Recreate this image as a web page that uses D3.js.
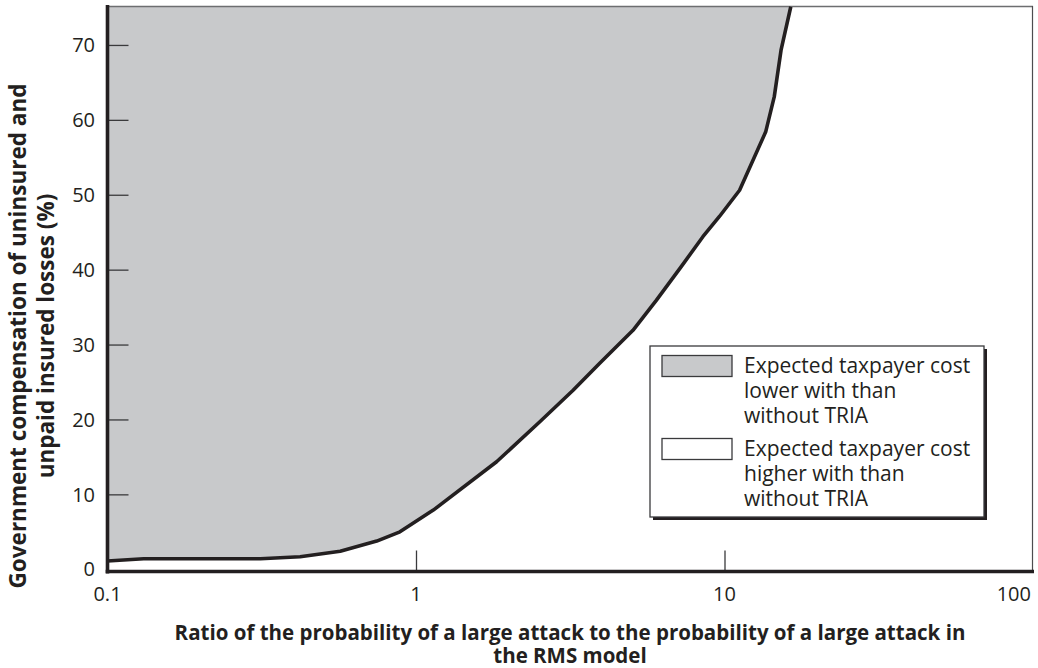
<!DOCTYPE html>
<html>
<head>
<meta charset="utf-8">
<script src="https://cdn.jsdelivr.net/npm/d3@7"></script>
<style>
  html, body { margin: 0; padding: 0; background: #fff; }
  svg { display: block; }
  text { font-family: "Open Sans", "Noto Sans", sans-serif; fill: #231f20; }
</style>
</head>
<body>
<svg id="chart" width="1038" height="668"></svg>
<script>
// ---- data ----
const ratio = [0.1, 0.131, 0.313, 0.421, 0.568, 0.746, 0.887, 1.138, 1.825, 2.52, 3.23, 3.94, 5.05, 6.01, 7.24, 8.51, 9.63, 11.19, 13.6, 14.5, 15.25, 16.4];
const compensation = [1.1, 1.4, 1.4, 1.67, 2.4, 3.76, 5.0, 7.9, 14.35, 19.7, 23.9, 27.5, 31.9, 35.9, 40.4, 44.4, 47.1, 50.6, 58.4, 63.1, 69.3, 75.1];
const xTicks = [0.1, 1, 10, 100];
const xTickLabels = ["0.1", "1", "10", "100"];
const yTicks = [0, 10, 20, 30, 40, 50, 60, 70];
const legendLabels = [
  ["Expected taxpayer cost", "lower with than", "without TRIA"],
  ["Expected taxpayer cost", "higher with than", "without TRIA"]
];
const xTitle = ["Ratio of the probability of a large attack to the probability of a large attack in", "the RMS model"];
const yTitle = ["Government compensation of uninsured and", "unpaid insured losses (%)"];

// ---- layout ----
const svg = d3.select("#chart");
const ink = "#231f20";
const grey = "#c8c9cb";
const plotL = 107.5, plotR = 1033, plotT = 6, axisY = 571.5;

const x = d3.scaleLog().domain([0.1, 100]).range([plotL, plotR]);
const y = d3.scaleLinear().domain([-0.3, 75.2]).range([axisY, plotT]);

const pts = ratio.map((r, i) => [r, compensation[i]]);

// shaded region (above the curve)
svg.append("path")
  .datum(pts)
  .attr("fill", grey)
  .attr("d", d3.area().x(d => x(d[0])).y0(y(75.2)).y1(d => y(d[1])));

// top and right frame
svg.append("line").attr("x1", plotL).attr("x2", plotR).attr("y1", plotT + 0.5).attr("y2", plotT + 0.5)
  .attr("stroke", "#6d6e70").attr("stroke-width", 1.5);
svg.append("line").attr("x1", plotR - 0.5).attr("x2", plotR - 0.5).attr("y1", plotT).attr("y2", axisY)
  .attr("stroke", "#4d4d4f").attr("stroke-width", 1.2);

// curve
svg.append("path")
  .datum(pts)
  .attr("fill", "none")
  .attr("stroke", ink)
  .attr("stroke-width", 3.6)
  .attr("stroke-linejoin", "round")
  .attr("d", d3.line().x(d => x(d[0])).y(d => y(d[1])));

// y axis
const yAxis = d3.axisRight(y).tickValues(yTicks).tickSize(21).tickFormat("");
const gy = svg.append("g").attr("transform", `translate(${plotL},0)`).call(yAxis);
gy.select(".domain").remove();
gy.selectAll(".tick line").attr("stroke", "#3a3a3c").attr("stroke-width", 1.3)
  .filter(d => d === 0).remove();
svg.append("g").selectAll("text").data(yTicks).join("text")
  .attr("x", 95).attr("y", d => y(d)).attr("dy", "0.36em")
  .attr("text-anchor", "end").attr("font-size", 20).text(d => d);

// x axis
const xAxis = d3.axisTop(x).tickValues(xTicks).tickSize(21).tickFormat("");
const gx = svg.append("g").attr("transform", `translate(0,${axisY})`).call(xAxis);
gx.select(".domain").remove();
gx.selectAll(".tick line").attr("stroke", "#3a3a3c").attr("stroke-width", 1.3)
  .filter(d => d === 0.1 || d === 100).remove();
svg.append("g").selectAll("text").data(xTicks).join("text")
  .attr("x", (d, i) => i === xTicks.length - 1 ? plotR - 2 : x(d))
  .attr("y", 600.5)
  .attr("text-anchor", (d, i) => i === xTicks.length - 1 ? "end" : "middle")
  .attr("font-size", 20)
  .text((d, i) => xTickLabels[i]);

// axis lines (thick)
svg.append("line").attr("x1", plotL).attr("x2", plotL).attr("y1", plotT - 1).attr("y2", axisY + 2)
  .attr("stroke", ink).attr("stroke-width", 3.6);
svg.append("line").attr("x1", plotL - 1.8).attr("x2", plotR + 1).attr("y1", axisY).attr("y2", axisY)
  .attr("stroke", ink).attr("stroke-width", 3.6);

// legend
const lg = svg.append("g");
const lx = 650, ly = 346, lw = 334, lh = 171;
lg.append("rect").attr("x", lx + 3).attr("y", ly + 3).attr("width", lw).attr("height", lh).attr("fill", ink);
lg.append("rect").attr("x", lx).attr("y", ly).attr("width", lw).attr("height", lh)
  .attr("fill", "#fff").attr("stroke", "#3a3a3c").attr("stroke-width", 1.3);
const swatchFill = [grey, "#fff"];
legendLabels.forEach((lines, i) => {
  const oy = ly + i * 83;
  lg.append("rect").attr("x", 662).attr("y", oy + 9.5).attr("width", 70).attr("height", 21)
    .attr("fill", swatchFill[i]).attr("stroke", "#3a3a3c").attr("stroke-width", 1.3);
  lines.forEach((t, j) => {
    lg.append("text").attr("x", 744).attr("y", oy + 27 + j * 25)
      .attr("font-size", 21).text(t);
  });
});

// axis titles
svg.append("g").selectAll("text").data(xTitle).join("text")
  .attr("x", 570).attr("y", (d, i) => 640 + i * 23)
  .attr("text-anchor", "middle").attr("font-size", 20.5).attr("font-weight", "bold").text(d => d);

svg.append("g").selectAll("text").data(yTitle).join("text")
  .attr("transform", (d, i) => `translate(${26 + i * 27.5},336) rotate(-90)`)
  .attr("text-anchor", "middle").attr("font-size", 22.5).attr("font-weight", "bold").text(d => d);
</script>
</body>
</html>
